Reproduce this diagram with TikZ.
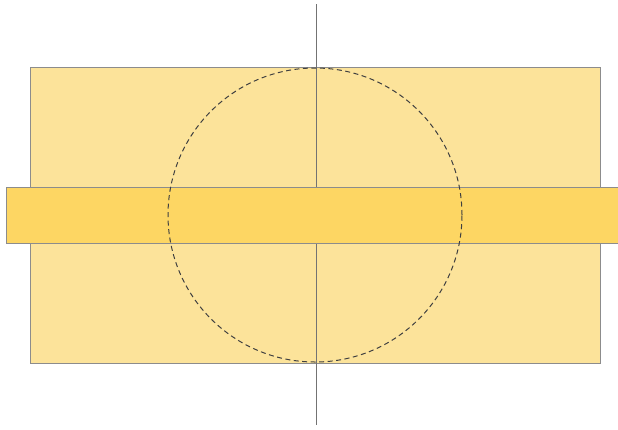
\documentclass[tikz,border=0pt]{standalone}
\begin{document}
\begin{tikzpicture}[x=1pt,y=-1pt,
  bigbox/.style={draw=black!45, fill=pale, line width=0.8pt, minimum width=570pt, minimum height=296pt, inner sep=0pt, outer sep=0pt},
  bandbox/.style={draw=black!45, fill=band, line width=0.8pt, minimum width=614pt, minimum height=56pt, inner sep=0pt, outer sep=0pt},
  axis/.style={draw=black!55, line width=0.8pt},
  ring/.style={draw=black!75, dash pattern=on 5pt off 3.5pt, line width=1pt}]
\definecolor{pale}{HTML}{FCE39A}
\definecolor{band}{HTML}{FDD663}
\useasboundingbox (0,0) rectangle (618,429);
\node[bigbox] (big) at (315,215) {};
\coordinate (top) at (316,4);
\coordinate (bot) at (316,425);
\draw[axis] (top) -- (bot);
\node[bandbox] (band) at (313,215) {};
\node[circle, ring, minimum size=294pt, inner sep=0pt] (c) at (315,215) {};
\end{tikzpicture}
\end{document}
